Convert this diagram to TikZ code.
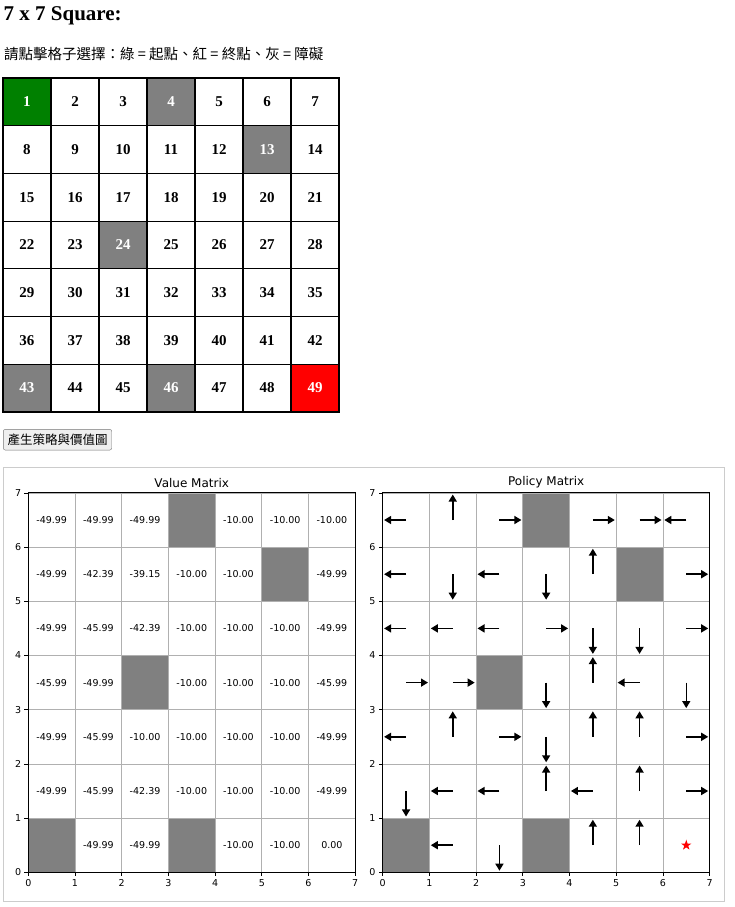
\documentclass[tikz,border=0pt]{standalone}
\usepackage{fontspec}
\setmainfont{Liberation Serif}
\newfontfamily\mplfont{DejaVu Sans}
\newfontfamily\cjkfont{Noto Sans CJK TC}
\usetikzlibrary{arrows.meta, shapes.geometric}
\definecolor{startgreen}{HTML}{008000}
\definecolor{wallgray}{HTML}{808080}
\definecolor{gridgray}{HTML}{B0B0B0}
\definecolor{framegray}{HTML}{CCCCCC}
\definecolor{buttongray}{HTML}{EFEFEF}
\definecolor{buttonedge}{HTML}{767676}
\newlength{\cellw}
\setlength{\cellw}{48pt}
\newlength{\cellh}
\setlength{\cellh}{47.7pt}
\tikzset{cell/.style = {shape=rectangle,draw,line width=1.2pt,minimum width=\cellw,minimum height=\cellh,inner sep=0pt,font=\fontsize{15}{15}\selectfont\bfseries}}
\tikzset{startcell/.style = {cell,fill=startgreen,text=white}}
\tikzset{wallcell/.style = {cell,fill=wallgray,text=white}}
\tikzset{goalcell/.style = {cell,fill=red,text=white}}
\tikzset{val/.style = {inner sep=0pt,font=\mplfont\fontsize{9.5}{9.5}\selectfont}}
\tikzset{ticklab/.style = {inner sep=0pt,font=\mplfont\fontsize{9.5}{9.5}\selectfont}}
\tikzset{plottitle/.style = {inner sep=0pt,font=\mplfont\fontsize{12}{12}\selectfont}}
\tikzset{act/.style = {-{Triangle[length=7pt,width=8pt]},line width=1.5pt}}

\begin{document}
\begin{tikzpicture}[x=1pt,y=-1pt]
        \useasboundingbox (0,0) rectangle (734,907);
        \node[anchor=base west,inner sep=0pt,font=\fontsize{21}{21}\selectfont\bfseries] (heading) at (3.5,20.7) {7 x 7 Square:};
        \node[anchor=west,inner sep=0pt,font=\cjkfont\fontsize{14.5}{14.5}\selectfont] (hint) at (4,53.8) {請點擊格子選擇：綠 = 起點、紅 = 終點、灰 = 障礙};
        % board
        \foreach \n/\kind in {1/startcell,2/cell,3/cell,4/wallcell,5/cell,6/cell,7/cell,
                8/cell,9/cell,10/cell,11/cell,12/cell,13/wallcell,14/cell,
                15/cell,16/cell,17/cell,18/cell,19/cell,20/cell,21/cell,
                22/cell,23/cell,24/wallcell,25/cell,26/cell,27/cell,28/cell,
                29/cell,30/cell,31/cell,32/cell,33/cell,34/cell,35/cell,
                36/cell,37/cell,38/cell,39/cell,40/cell,41/cell,42/cell,
                43/wallcell,44/cell,45/cell,46/wallcell,47/cell,48/cell,49/goalcell} {
            \pgfmathtruncatemacro{\r}{(\n-1)/7}
            \pgfmathtruncatemacro{\c}{\n-1-7*\r}
            \node[\kind] (c\n) at ({27+48*\c},{101.85+47.7*\r}) {\n};
        }
        \node[draw=buttonedge,fill=buttongray,rounded corners=2pt,minimum width=108.4pt,minimum height=20.7pt,inner sep=0pt,font=\cjkfont\fontsize{12.5}{12.5}\selectfont] (gen) at (57.5,439.7) {產生策略與價值圖};
        \draw[framegray] (3,467) rectangle (724,901);
        % value matrix
        \begin{scope}[shift={(28.3pt,-872.3pt)},x=46.7pt,y=54.2pt]
            \fill[wallgray] (3,6) rectangle (4,7);
            \fill[wallgray] (5,5) rectangle (6,6);
            \fill[wallgray] (2,3) rectangle (3,4);
            \fill[wallgray] (0,0) rectangle (1,1);
            \fill[wallgray] (3,0) rectangle (4,1);
            \draw[gridgray,line width=0.8pt,step=1] (0,0) grid (7,7);
            \draw[line width=1pt] (0,0) rectangle (7,7);
            \foreach \i in {0,...,7} {
                \draw[line width=0.8pt] (\i,0) -- ++(0,-4pt);
                \draw[line width=0.8pt] (0,\i) -- ++(-4pt,0);
                \node[ticklab,anchor=north] (vx\i) at ([yshift=-7pt]\i,0) {\i};
                \node[ticklab,anchor=east] (vy\i) at ([xshift=-7pt]0,\i) {\i};
            }
            \node[plottitle,anchor=south] (vtitle) at ([yshift=5pt]3.5,7) {Value Matrix};
            \foreach \row/\vals in {6/{-49.99,-49.99,-49.99,{},-10.00,-10.00,-10.00},
                    5/{-49.99,-42.39,-39.15,-10.00,-10.00,{},-49.99},
                    4/{-49.99,-45.99,-42.39,-10.00,-10.00,-10.00,-49.99},
                    3/{-45.99,-49.99,{},-10.00,-10.00,-10.00,-45.99},
                    2/{-49.99,-45.99,-10.00,-10.00,-10.00,-10.00,-49.99},
                    1/{-49.99,-45.99,-42.39,-10.00,-10.00,-10.00,-49.99},
                    0/{{},-49.99,-49.99,{},-10.00,-10.00,0.00}} {
                \foreach \v [count=\col from 0] in \vals {
                    \node[val] (v\col-\row) at (\col+.5,\row+.5) {\v};
                }
            }
        \end{scope}
        % policy matrix
        \begin{scope}[shift={(382.7pt,-872.3pt)},x=46.7pt,y=54.2pt]
            \fill[wallgray] (3,6) rectangle (4,7);
            \fill[wallgray] (5,5) rectangle (6,6);
            \fill[wallgray] (2,3) rectangle (3,4);
            \fill[wallgray] (0,0) rectangle (1,1);
            \fill[wallgray] (3,0) rectangle (4,1);
            \draw[gridgray,line width=0.8pt,step=1] (0,0) grid (7,7);
            \draw[line width=1pt] (0,0) rectangle (7,7);
            \foreach \i in {0,...,7} {
                \draw[line width=0.8pt] (\i,0) -- ++(0,-4pt);
                \draw[line width=0.8pt] (0,\i) -- ++(-4pt,0);
                \node[ticklab,anchor=north] (px\i) at ([yshift=-7pt]\i,0) {\i};
                \node[ticklab,anchor=east] (py\i) at ([xshift=-7pt]0,\i) {\i};
            }
            \node[plottitle,anchor=south] (ptitle) at ([yshift=5pt]3.5,7) {Policy Matrix};
            % left
            \foreach \x/\y in {0/6,6/6,0/5,2/5,0/4,1/4,2/4,5/3,0/2,1/1,2/1,4/1,1/0}
                \draw[act] (\x+.5,\y+.5) -- ++(-.47,0);
            % right
            \foreach \x/\y in {2/6,4/6,5/6,6/5,3/4,6/4,0/3,1/3,2/2,6/2,6/1}
                \draw[act] (\x+.5,\y+.5) -- ++(.47,0);
            % up
            \foreach \x/\y in {1/6,4/5,4/3,1/2,4/2,5/2,3/1,5/1,4/0,5/0}
                \draw[act] (\x+.5,\y+.5) -- ++(0,.47);
            % down
            \foreach \x/\y in {1/5,3/5,4/4,5/4,3/3,6/3,3/2,0/1,2/0}
                \draw[act] (\x+.5,\y+.5) -- ++(0,-.47);
            \node[star,star points=5,star point ratio=2.6,fill=red,inner sep=0pt,minimum size=11pt] (goal) at (6.5,0.5) {};
        \end{scope}
    \end{tikzpicture}
\end{document}
